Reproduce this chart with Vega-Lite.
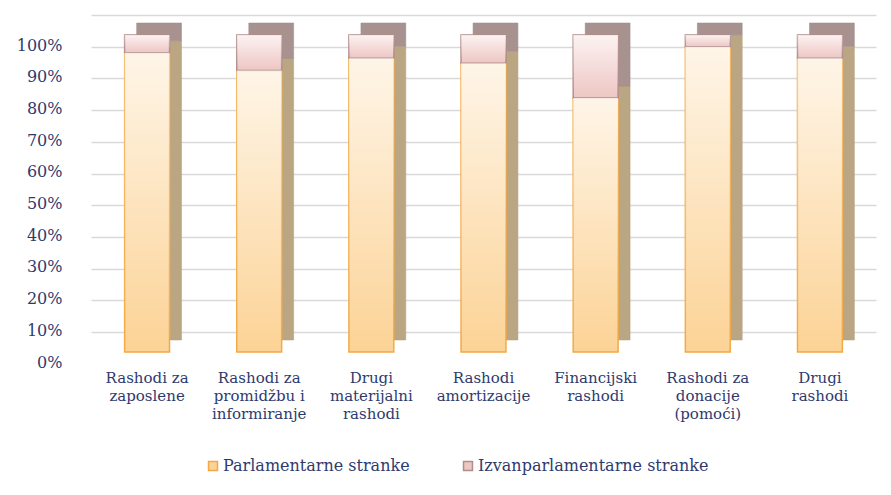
{
  "$schema": "https://vega.github.io/schema/vega-lite/v6.json",
  "autosize": {"type": "none"},
  "width": 785,
  "height": 317,
  "padding": {"left": 91, "top": 15, "right": 15, "bottom": 163},
  "background": "#ffffff",
  "config": {
    "view": {"stroke": null},
    "font": "DejaVu Serif"
  },
  "data": {
    "values": [
      {"kategorija": "Rashodi za|zaposlene", "skupina": "Parlamentarne stranke", "red": 1, "udio": 94.4},
      {"kategorija": "Rashodi za|zaposlene", "skupina": "Izvanparlamentarne stranke", "red": 2, "udio": 5.6},
      {"kategorija": "Rashodi za|promidžbu i|informiranje", "skupina": "Parlamentarne stranke", "red": 1, "udio": 88.8},
      {"kategorija": "Rashodi za|promidžbu i|informiranje", "skupina": "Izvanparlamentarne stranke", "red": 2, "udio": 11.2},
      {"kategorija": "Drugi|materijalni|rashodi", "skupina": "Parlamentarne stranke", "red": 1, "udio": 92.7},
      {"kategorija": "Drugi|materijalni|rashodi", "skupina": "Izvanparlamentarne stranke", "red": 2, "udio": 7.3},
      {"kategorija": "Rashodi|amortizacije", "skupina": "Parlamentarne stranke", "red": 1, "udio": 91.1},
      {"kategorija": "Rashodi|amortizacije", "skupina": "Izvanparlamentarne stranke", "red": 2, "udio": 8.9},
      {"kategorija": "Financijski|rashodi", "skupina": "Parlamentarne stranke", "red": 1, "udio": 80.1},
      {"kategorija": "Financijski|rashodi", "skupina": "Izvanparlamentarne stranke", "red": 2, "udio": 19.9},
      {"kategorija": "Rashodi za|donacije|(pomoći)", "skupina": "Parlamentarne stranke", "red": 1, "udio": 96.3},
      {"kategorija": "Rashodi za|donacije|(pomoći)", "skupina": "Izvanparlamentarne stranke", "red": 2, "udio": 3.7},
      {"kategorija": "Drugi|rashodi", "skupina": "Parlamentarne stranke", "red": 1, "udio": 92.7},
      {"kategorija": "Drugi|rashodi", "skupina": "Izvanparlamentarne stranke", "red": 2, "udio": 7.3}
    ]
  },
  "encoding": {
    "x": {
      "field": "kategorija",
      "type": "nominal",
      "sort": null,
      "scale": {"paddingInner": 0.6, "paddingOuter": 0.3},
      "axis": {
        "title": null,
        "labelAngle": 0,
        "domain": false,
        "ticks": false,
        "labelExpr": "split(datum.value, '|')",
        "labelPadding": 38,
        "labelBaseline": "top",
        "labelLineHeight": 18,
        "labelFontSize": 15,
        "labelColor": "#2E3A6E",
        "labelFont": "DejaVu Serif"
      }
    },
    "y": {
      "field": "udio",
      "type": "quantitative",
      "stack": "normalize",
      "scale": {"domain": [0, 1], "nice": false},
      "axis": {
        "title": null,
        "format": ".0%",
        "values": [0, 0.1, 0.2, 0.3, 0.4, 0.5, 0.6, 0.7, 0.8, 0.9, 1],
        "labelOverlap": false,
        "labelFlush": false,
        "domain": false,
        "ticks": false,
        "labelOffset": 30,
        "labelPadding": 29,
        "labelFontSize": 16,
        "labelColor": "#2E3A6E",
        "labelFont": "DejaVu Serif",
        "grid": true,
        "gridColor": "#D9D9D9",
        "gridWidth": 1.5
      }
    },
    "order": {"field": "red", "type": "quantitative", "sort": "ascending"}
  },
  "layer": [
    {
      "mark": {"type": "bar", "xOffset": 12, "yOffset": 8, "y2Offset": 8, "strokeWidth": 0.5},
      "encoding": {
        "color": {"condition": {"test": "datum.red == 1", "value": "#BBA684"}, "value": "#A8928F"},
        "stroke": {"condition": {"test": "datum.red == 1", "value": "#B09C7C"}, "value": "#9E8886"}
      }
    },
    {
      "mark": {"type": "bar", "yOffset": 20, "y2Offset": 20, "strokeWidth": 1.5},
      "encoding": {
        "color": {
          "field": "skupina",
          "type": "nominal",
          "sort": ["Parlamentarne stranke", "Izvanparlamentarne stranke"],
          "scale": {"domain": ["Parlamentarne stranke", "Izvanparlamentarne stranke"], "range": ["#FCD396", "#EEC6C3"]},
          "legend": {
            "title": null,
            "orient": "none",
            "legendX": 114,
            "legendY": 443,
            "direction": "horizontal",
            "symbolType": "square",
            "symbolSize": 80,
            "symbolStrokeWidth": 1.5,
            "labelFontSize": 16,
            "labelLimit": 0,
            "labelColor": "#2E3A6E",
            "labelFont": "DejaVu Serif",
            "labelOffset": 2,
            "columnPadding": 50
          }
        },
        "stroke": {
          "field": "skupina",
          "type": "nominal",
          "sort": ["Parlamentarne stranke", "Izvanparlamentarne stranke"],
          "scale": {"domain": ["Parlamentarne stranke", "Izvanparlamentarne stranke"], "range": ["#F2A945", "#B08C8A"]},
          "legend": {
            "title": null,
            "orient": "none",
            "legendX": 114,
            "legendY": 443,
            "direction": "horizontal",
            "symbolType": "square",
            "symbolSize": 80,
            "symbolStrokeWidth": 1.5,
            "labelFontSize": 16,
            "labelLimit": 0,
            "labelColor": "#2E3A6E",
            "labelFont": "DejaVu Serif",
            "labelOffset": 2,
            "columnPadding": 50
          }
        }
      }
    },
    {
      "mark": {
        "type": "bar",
        "yOffset": 20,
        "y2Offset": 20,
        "strokeWidth": 0,
        "color": {
          "gradient": "linear",
          "x1": 0, "y1": 0, "x2": 0, "y2": 1,
          "stops": [
            {"offset": 0, "color": "rgba(255,255,255,0.78)"},
            {"offset": 1, "color": "rgba(255,255,255,0)"}
          ]
        }
      }
    }
  ]
}
